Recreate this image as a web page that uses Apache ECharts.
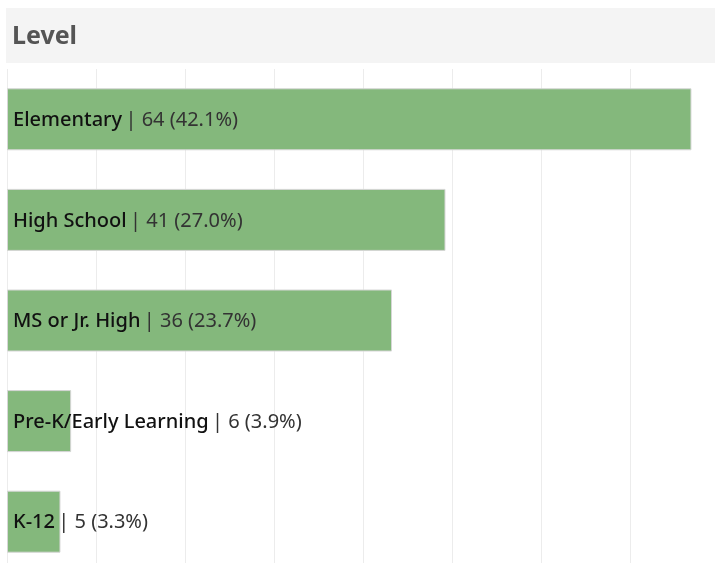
<!DOCTYPE html>
<html>
<head>
<meta charset="utf-8">
<script src="https://cdn.jsdelivr.net/npm/echarts@6/dist/echarts.min.js"></script>
<style>
  html, body { margin: 0; padding: 0; background: #fff; overflow: hidden; }
  #chart { width: 715px; height: 580px; }
</style>
</head>
<body>
<div id="chart"></div>
<script>
var levels = ["Elementary", "High School", "MS or Jr. High", "Pre-K/Early Learning", "K-12"];
var counts = [64, 41, 36, 6, 5];
var shares = ["42.1%", "27.0%", "23.7%", "3.9%", "3.3%"];

var chart = echarts.init(document.getElementById("chart"));

chart.setOption({
  animation: false,
  graphic: [
    {
      type: "rect",
      shape: { x: 6, y: 8, width: 709, height: 55 },
      style: { fill: "#f4f4f4" },
      z: 0
    },
    {
      type: "text",
      x: 12,
      y: 37,
      style: {
        text: "Level",
        fontFamily: "Noto Sans",
        fontWeight: "bold",
        fontSize: 25,
        verticalAlign: "middle",
        fill: "#555555"
      }
    }
  ],
  // grid runs past the visible window, like the cut-off last row in the original
  grid: { left: 7, right: 0, top: 69, bottom: 8 },
  xAxis: {
    type: "value",
    min: 0,
    max: 66.2,
    interval: 8.32,
    axisLabel: { show: false },
    axisLine: { show: false },
    axisTick: { show: false },
    splitLine: { lineStyle: { color: "#ececec", width: 1 } }
  },
  yAxis: {
    type: "category",
    data: levels,
    inverse: true,
    axisLabel: { show: false },
    axisLine: { show: false },
    axisTick: { show: false }
  },
  series: [{
    type: "bar",
    data: counts,
    barWidth: 62,
    itemStyle: { color: "#84b87c", borderColor: "#d6d6d6", borderWidth: 1 },
    label: {
      show: true,
      position: "insideLeft",
      distance: 6,
      formatter: function (p) {
        return "{a|" + levels[p.dataIndex] + "} {b|| " + counts[p.dataIndex] + " (" + shares[p.dataIndex] + ")}";
      },
      rich: {
        a: { fontFamily: "Noto Sans", fontWeight: 500, fontSize: 20, color: "#111111", padding: [2, 0, 0, 0] },
        b: { fontFamily: "Noto Sans", fontSize: 20, color: "#333333", padding: [2, 0, 0, 0] }
      }
    }
  }]
});
</script>
</body>
</html>
